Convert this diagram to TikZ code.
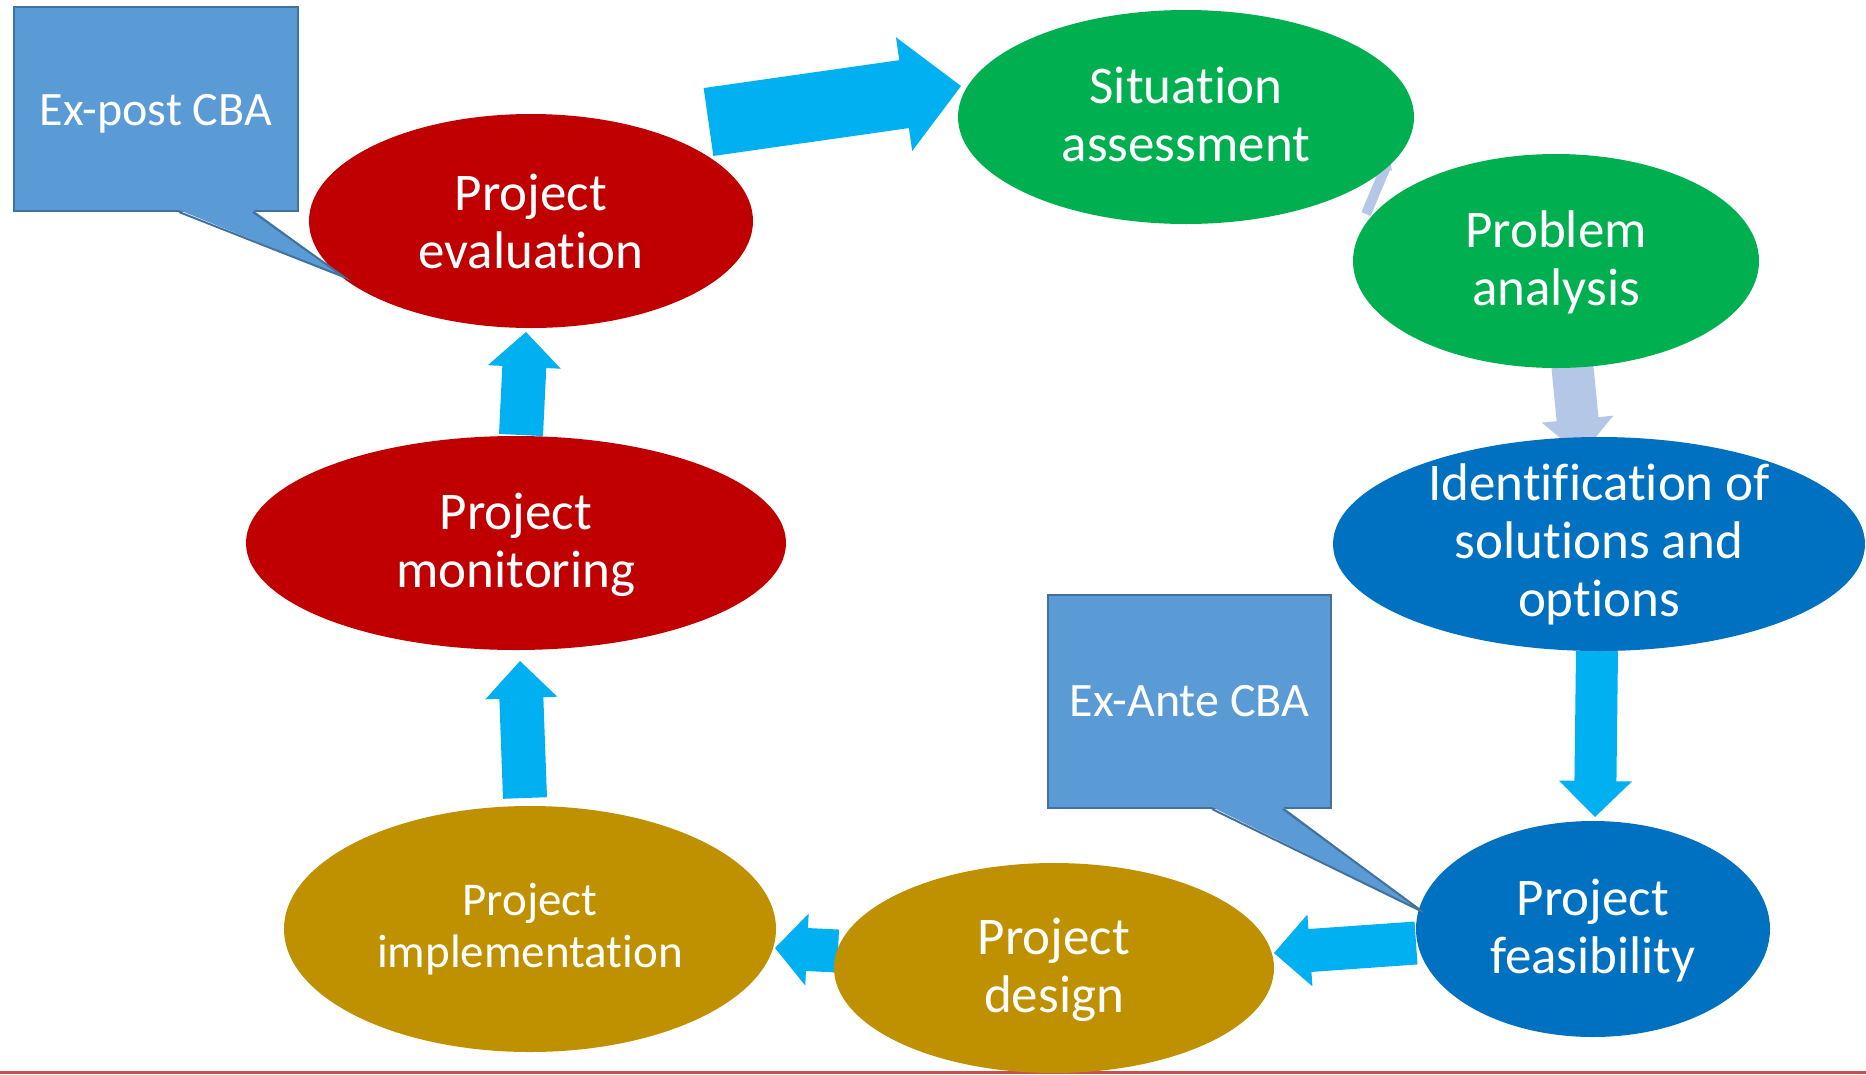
\documentclass[tikz,border=0pt]{standalone}
\usepackage{fontspec}
\setmainfont{Carlito}[RawFeature={-liga}]
\usetikzlibrary{calc,shapes.geometric}
\definecolor{cgreen}{HTML}{00B050}
\definecolor{cblue}{HTML}{0070C0}
\definecolor{cgold}{HTML}{BF9000}
\definecolor{cred}{HTML}{C00000}
\definecolor{ccyan}{HTML}{00B0F0}
\definecolor{clight}{HTML}{B4C7E7}
\definecolor{cbafill}{HTML}{5B9BD5}
\definecolor{cbaline}{HTML}{41719C}
\definecolor{crule}{HTML}{C9504A}
\tikzset{
  stage/.style={ellipse, inner sep=0pt, draw=none},
  stagetext/.style={text=white, align=center, font=\fontsize{53}{58}\selectfont},
  smalltext/.style={text=white, align=center, font=\fontsize{47}{52}\selectfont},
  cbabox/.style={rectangle, fill=cbafill, draw=cbaline, line width=2pt, inner sep=0pt},
  cbatext/.style={text=white, font=\fontsize{48}{52}\selectfont},
  cbatail/.style={draw=cbaline, line width=2pt, line join=miter},
}
% block arrow: #1 colour, #2 from, #3 to, #4 shaft half width, #5 head half width, #6 head length
\newcommand\blockarr[6]{%
  \path ($(#3)!#6!(#2)$) coordinate (bh);
  \fill[#1] ($(#2)!#4!90:(#3)$) -- ($(bh)!#4!90:(#3)$) -- ($(bh)!#5!90:(#3)$) -- (#3)
    -- ($(bh)!#5!-90:(#3)$) -- ($(bh)!#4!-90:(#3)$) -- ($(#2)!#4!-90:(#3)$) -- cycle;
}
\begin{document}
\begin{tikzpicture}[x=1pt,y=-1pt]
\useasboundingbox (0,0) rectangle (1866,1074);
\fill[white] (0,0) rectangle (1866,1074);
\draw[crule, line width=2.5pt] (0,1072.5) -- (1866,1072.5);

% arrow end points
\coordinate (a1s) at (708.5,122);  \coordinate (a1e) at (961,86);
\coordinate (a2s) at (1366,214);   \coordinate (a2e) at (1390,157);
\coordinate (a3s) at (1571,352);   \coordinate (a3e) at (1581,455);
\coordinate (a4s) at (1597,651);   \coordinate (a4e) at (1595,817);
\coordinate (a5s) at (1416,943);   \coordinate (a5e) at (1274,953);
\coordinate (a6s) at (838,951);    \coordinate (a6e) at (775,948);
\coordinate (a7s) at (525,798);    \coordinate (a7e) at (520,661);
\coordinate (a8s) at (521,435);    \coordinate (a8e) at (526,332);

\blockarr{ccyan}{a1s}{a1e}{34.3pt}{57.5pt}{57.5pt}
\blockarr{clight}{a2s}{a2e}{5pt}{7pt}{12pt}
\blockarr{clight}{a3s}{a3e}{21pt}{36pt}{36pt}
\blockarr{ccyan}{a4s}{a4e}{21pt}{36.5pt}{36pt}
\blockarr{ccyan}{a5s}{a5e}{21.5pt}{36pt}{36pt}
\blockarr{ccyan}{a6s}{a6e}{21.5pt}{36pt}{32pt}
\blockarr{ccyan}{a7s}{a7e}{22pt}{36pt}{37pt}
\blockarr{ccyan}{a8s}{a8e}{22pt}{36.5pt}{35pt}

% stages
\node[stage, fill=cgreen, minimum width=456pt, minimum height=214pt,
  label={[stagetext, yshift=3pt]center:{Situation\\assessment}}] (sit) at (1186,117) {};
\node[stage, fill=cgreen, minimum width=406pt, minimum height=214pt,
  label={[stagetext, yshift=-1pt]center:{Problem\\analysis}}] (prob) at (1556,261) {};
\node[stage, fill=cblue, minimum width=532pt, minimum height=214pt,
  label={[stagetext]center:{Identification of\\solutions and\\options}}] (ident) at (1599,544) {};
\node[stage, fill=cblue, minimum width=354pt, minimum height=216pt,
  label={[stagetext, yshift=-2pt]center:{Project\\feasibility}}] (feas) at (1593,929) {};
\node[stage, fill=cgold, minimum width=440pt, minimum height=210pt,
  label={[stagetext, yshift=-2pt]center:{Project\\design}}] (design) at (1054,968) {};
\node[stage, fill=cgold, minimum width=492pt, minimum height=246pt,
  label={[smalltext]center:{Project\\implementation}}] (impl) at (530,929) {};
\node[stage, fill=cred, minimum width=540pt, minimum height=214pt,
  label={[stagetext, yshift=-2pt]center:{Project\\monitoring}}] (mon) at (516,543) {};
\node[stage, fill=cred, minimum width=444pt, minimum height=214pt,
  label={[stagetext]center:{Project\\evaluation}}] (eval) at (531,221) {};

% callouts
\node[cbabox, minimum width=284pt, minimum height=204pt,
  label={[cbatext, yshift=-5pt]center:Ex-post CBA}] (expost) at (156,109) {};
\coordinate (expostTip) at (344,277);
\fill[cbafill] ($(expost.south west)+(166,-2)$) -- (expostTip) -- ($(expost.south west)+(240,-2)$) -- cycle;
\draw[cbatail] ($(expost.south west)+(166,0)$) -- (expostTip) -- ($(expost.south west)+(240,0)$);

\node[cbabox, minimum width=283pt, minimum height=213pt,
  label={[cbatext]center:Ex-Ante CBA}] (exante) at (1189.5,701.5) {};
\coordinate (exanteTip) at (1423,912);
\fill[cbafill] ($(exante.south west)+(165,-2)$) -- (exanteTip) -- ($(exante.south west)+(236,-2)$) -- cycle;
\draw[cbatail] ($(exante.south west)+(165,0)$) -- (exanteTip) -- ($(exante.south west)+(236,0)$);
\end{tikzpicture}
\end{document}
